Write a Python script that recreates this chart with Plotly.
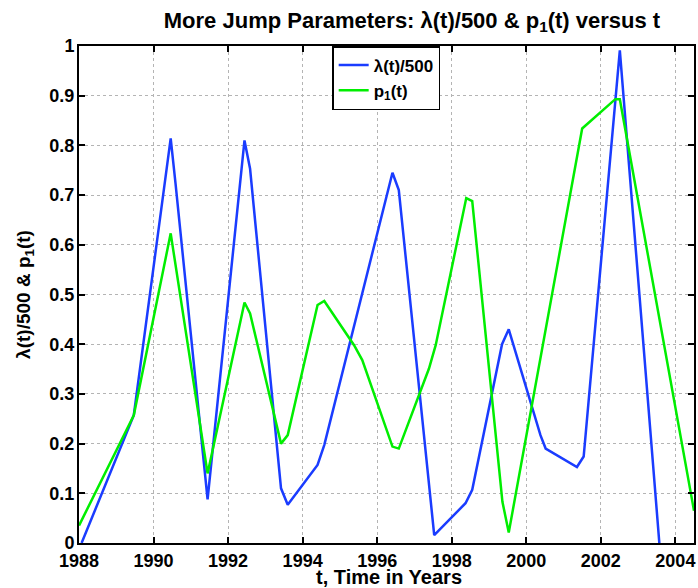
import plotly.graph_objects as go

# Blue series: lambda(t)/500
t_lam = [1988.07, 1989.47, 1990.46, 1990.59, 1991.45, 1992.44, 1992.59, 1993.42, 1993.60,
         1994.40, 1994.58, 1996.41, 1996.58, 1997.53, 1998.37, 1998.55, 1999.35, 1999.53,
         2000.38, 2000.52, 2001.36, 2001.54, 2002.51, 2003.57]
v_lam = [0.0, 0.257, 0.814, 0.723, 0.088, 0.810, 0.753, 0.110, 0.077,
         0.157, 0.197, 0.745, 0.710, 0.016, 0.080, 0.107, 0.400, 0.430,
         0.217, 0.190, 0.153, 0.174, 0.991, 0.0]

# Green series: p1(t)
t_p1 = [1988.0, 1989.47, 1990.46, 1991.45, 1992.44, 1992.59, 1993.42, 1993.60,
        1994.40, 1994.58, 1995.38, 1995.60, 1996.41, 1996.58, 1997.39, 1997.57,
        1998.39, 1998.55, 1999.36, 1999.53, 2001.50, 2002.39, 2002.51, 2004.5]
v_p1 = [0.035, 0.257, 0.623, 0.140, 0.484, 0.462, 0.200, 0.217,
        0.479, 0.487, 0.398, 0.368, 0.194, 0.190, 0.351, 0.398,
        0.694, 0.688, 0.083, 0.021, 0.834, 0.893, 0.893, 0.065]

x_ticks = list(range(1988, 2005, 2))
y_ticks = [i / 10 for i in range(11)]
y_tick_text = ["0", "0.1", "0.2", "0.3", "0.4", "0.5", "0.6", "0.7", "0.8", "0.9", "1"]

FONT = "Liberation Sans, Arial, Helvetica, sans-serif"

fig = go.Figure()
fig.add_trace(go.Scatter(x=t_lam, y=v_lam, mode="lines", name="λ(t)/500",
                         line=dict(color="#1a3cff", width=2.5)))
fig.add_trace(go.Scatter(x=t_p1, y=v_p1, mode="lines", name="p<sub>1</sub>(t)",
                         line=dict(color="#00ee00", width=2.5)))

axis_common = dict(
    showline=True, linecolor="black", linewidth=2, mirror="ticks",
    ticks="inside", ticklen=6, tickcolor="black", tickwidth=1.5,
    showgrid=True, gridcolor="#b4b4b4", griddash="dot", gridwidth=1,
    zeroline=False,
)

fig.update_xaxes(range=[1988, 2004.5], tickvals=x_ticks, ticklabelstandoff=0,
                 tickfont=dict(family=FONT, size=18, color="black", weight="bold"),
                 **axis_common)
fig.update_yaxes(range=[0, 1], tickvals=y_ticks, ticktext=y_tick_text, ticklabelstandoff=-1,
                 tickfont=dict(family=FONT, size=18, color="black", weight="bold"),
                 title=dict(text="λ(t)/500 & p<sub>1</sub>(t)", standoff=14,
                            font=dict(family=FONT, size=19, color="black", weight="bold")),
                 **axis_common)

fig.add_annotation(text="t, Time in Years", xref="paper", yref="paper",
                   x=(390.5 - 79) / 617, y=(543 - 577) / 497,
                   xanchor="center", yanchor="middle", showarrow=False,
                   font=dict(family=FONT, size=20, color="black", weight="bold"))

fig.update_layout(
    width=698, height=588,
    margin=dict(l=79, r=2, t=46, b=45),
    paper_bgcolor="white", plot_bgcolor="white",
    title=dict(text="More Jump Parameters: λ(t)/500 & p<sub>1</sub>(t) versus t",
               x=412 / 698, xanchor="center", y=1 - 20 / 588, yanchor="middle",
               font=dict(family=FONT, size=22, color="black", weight="bold")),
    legend=dict(x=(333 - 79) / 617, xanchor="left", y=1.0, yanchor="top",
                bgcolor="white", bordercolor="black", borderwidth=1.5,
                font=dict(family=FONT, size=17, color="black", weight="bold"),
                itemwidth=30, tracegroupgap=0),
    showlegend=True,
)

fig.write_html("out.html", config={"displayModeBar": False},
               post_script="document.body.style.margin='0';")
